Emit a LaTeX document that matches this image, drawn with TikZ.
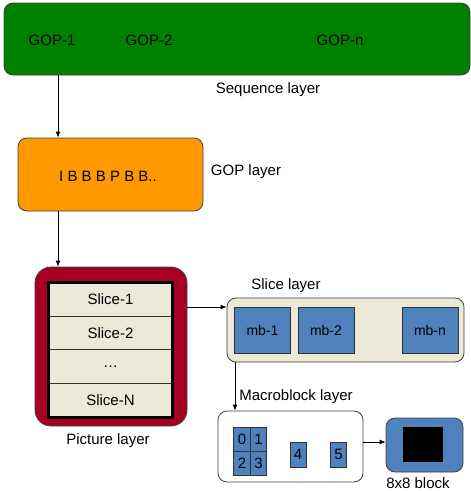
\documentclass[tikz,border=0pt]{standalone}
\usepackage{fontspec}
\setmainfont{Liberation Sans}
\usetikzlibrary{arrows.meta}

\begin{document}
\begin{tikzpicture}[x=1pt,y=-1pt,
	box/.style={draw=black!75,line width=0.8pt,rounded corners=9pt,inner sep=0pt},
	mbox/.style={draw=black!80,line width=0.7pt,fill=mbblue,inner sep=0pt,font=\fontsize{14}{16}\selectfont},
	row/.style={draw=black!80,line width=0.7pt,fill=slicebg,inner sep=0pt,minimum width=123pt,minimum height=33.5pt},
	arr/.style={line width=0.8pt,-{Latex[length=6pt,width=5pt]}},
	lbl/.style={inner sep=0pt,font=\fontsize{15}{18}\selectfont}]
	
	% 定义颜色
	\definecolor{seqgreen}{HTML}{008000} % 序列层
	\definecolor{goporange}{HTML}{FF9900} % GOP 层
	\definecolor{picred}{HTML}{A50021} % 图像层
	\definecolor{slicebg}{HTML}{ECE9D8} % 片层背景
	\definecolor{mbblue}{HTML}{4F81BD} % 宏块
	
	\useasboundingbox (0,0) rectangle (471,491); % 画布大小
	\fontsize{15}{18}\selectfont
	
	% 序列层
	\node[box,fill=seqgreen,minimum width=466pt,minimum height=72pt] (seq) at (237,39) {};
	\node (gop1) at (52,40) {GOP-1};
	\node (gop2) at (149,40) {GOP-2};
	\node (gopn) at (340,40) {GOP-n};
	\node[lbl] (seqlbl) at (268,90) {Sequence layer};
	
	% GOP 层
	\node[box,fill=goporange,minimum width=185pt,minimum height=73pt] (gop) at (110.5,174.5) {};
	\node (frames) at (108,176) {I B B B P B B..};
	\node[lbl] (goplbl) at (246,172) {GOP layer};
	
	% 图像层
	\node[box,fill=picred,rounded corners=16pt,minimum width=152pt,minimum height=159pt] (pic) at (111,346.5) {};
	\node[row] (s1) at (110.5,299.5) {Slice-1};
	\node[row] (s2) at (110.5,333) {Slice-2};
	\node[row] (s3) at (110.5,366.5) {\ldots};
	\node[row] (sN) at (110.5,400) {Slice-N};
	\draw[line width=3pt] (s1.north west) rectangle (sN.south east); % 外框
	\node[lbl] (piclbl) at (108,441) {Picture layer};
	
	% 片层
	\node[box,fill=slicebg,minimum width=237pt,minimum height=64pt] (slice) at (345.5,330) {};
	\node[mbox,minimum width=56pt,minimum height=46pt] (mb1) at (262.5,330) {mb-1};
	\node[mbox,minimum width=56pt,minimum height=46pt] (mb2) at (326,330) {mb-2};
	\node[mbox,minimum width=56pt,minimum height=46pt] (mbn) at (430,330) {mb-n};
	\node[lbl] (slicelbl) at (286,286) {Slice layer};
	
	% 宏块层
	\node[box,fill=white,minimum width=145pt,minimum height=71pt] (macro) at (290.5,446.5) {};
	\node[mbox,minimum width=16.5pt,minimum height=24pt,font=\fontsize{15}{18}\selectfont] (b0) at (242,439) {0};
	\node[mbox,minimum width=16.5pt,minimum height=24pt,font=\fontsize{15}{18}\selectfont] (b1) at (258.5,439) {1};
	\node[mbox,minimum width=16.5pt,minimum height=24pt,font=\fontsize{15}{18}\selectfont] (b2) at (242,463) {2};
	\node[mbox,minimum width=16.5pt,minimum height=24pt,font=\fontsize{15}{18}\selectfont] (b3) at (258.5,463) {3};
	\node[mbox,minimum width=16pt,minimum height=25pt,font=\fontsize{15}{18}\selectfont] (b4) at (298,454.5) {4};
	\node[mbox,minimum width=16pt,minimum height=25pt,font=\fontsize{15}{18}\selectfont] (b5) at (338.5,454.5) {5};
	\node[lbl] (macrolbl) at (296,397) {Macroblock layer};
	
	% 8x8 块
	\node[box,fill=mbblue,minimum width=77pt,minimum height=54pt] (blk) at (424.5,445) {};
	\node[fill=black,inner sep=0pt,minimum width=40pt,minimum height=35pt] (pix) at (423,444.5) {};
	\node[lbl] (blklbl) at (418,483.5) {8x8 block};
	
	% 连线
	\coordinate (a1) at (58,0);
	\coordinate (a3) at (0,307);
	\coordinate (a4) at (235,0);
	\coordinate (a5) at (0,442);
	\draw[arr] (seq.south -| a1) -- (gop.north -| a1);
	\draw[arr] (gop.south -| a1) -- (pic.north -| a1);
	\draw[arr] (pic.east |- a3) -- (slice.west |- a3);
	\draw[arr] (slice.south -| a4) -- (macro.north -| a4);
	\draw[arr] (macro.east |- a5) -- (blk.west |- a5);
	
\end{tikzpicture}
\end{document}
